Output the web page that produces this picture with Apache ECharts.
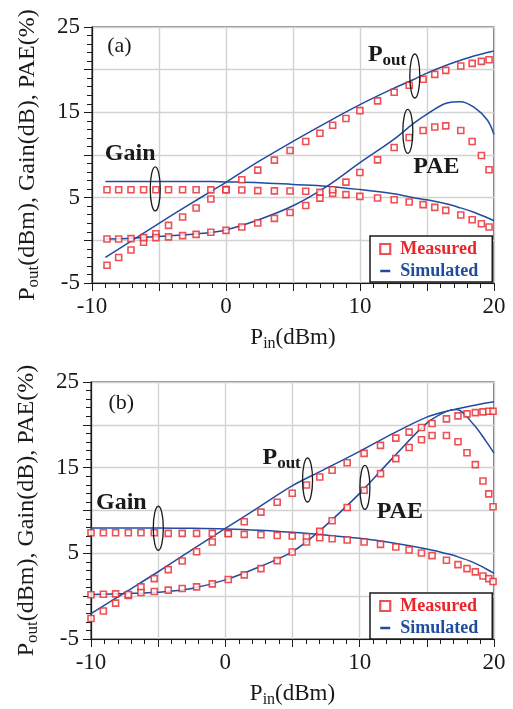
<!DOCTYPE html>
<html>
<head>
<meta charset="utf-8">
<script src="https://cdn.jsdelivr.net/npm/echarts/dist/echarts.min.js"></script>
<style>
  html, body { margin: 0; padding: 0; background: #fff; }
  #main { width: 513px; height: 709px; }
</style>
</head>
<body>
<div id="main"></div>
<script>
// ---- panel (a) measured ----
const pinA = [-8.88, -8.01, -7.09, -6.15, -5.23, -4.29, -3.24, -2.23, -1.13, 0.0, 1.18, 2.37, 3.61, 4.78, 5.95,
  7.01, 7.96, 8.95, 9.99, 11.31, 12.55, 13.67, 14.71, 15.58, 16.40, 17.52, 18.37, 19.06, 19.63];
const poutA = [-2.92, -2.02, -1.13, -0.23, 0.78, 1.75, 2.73, 3.79, 4.84, 5.95, 7.10, 8.23, 9.40, 10.53, 11.58,
  12.55, 13.49, 14.27, 15.20, 16.34, 17.35, 18.17, 18.87, 19.45, 19.92, 20.43, 20.74, 20.97, 21.17];
const gainA = [5.93, 5.93, 5.93, 5.93, 5.93, 5.93, 5.93, 5.93, 5.91, 5.91, 5.89, 5.83, 5.80, 5.78, 5.75,
  5.62, 5.50, 5.36, 5.15, 4.96, 4.76, 4.49, 4.18, 3.86, 3.51, 2.96, 2.42, 1.95, 1.56];
const paeA = [0.16, 0.16, 0.20, 0.32, 0.32, 0.40, 0.55, 0.70, 0.94, 1.17, 1.56, 2.03, 2.57, 3.27, 4.09,
  4.95, 5.93, 6.82, 7.95, 9.43, 10.88, 12.05, 12.87, 13.29, 13.41, 12.87, 11.58, 9.94, 8.27];

// ---- panel (a) simulated ----
const simXA = [-9, -7, -5, -3, -1, 0, 2.5, 5, 7.5, 10, 12.5, 14, 15, 16.5, 17.5, 18.5, 19.5, 20];
const simPoutA = [-2.0, 0.0, 2.0, 3.95, 5.85, 6.8, 9.3, 11.6, 13.8, 15.9, 17.8, 18.85, 19.6, 20.55, 21.1, 21.6, 22.0, 22.2];
const simGainA = [6.9, 6.9, 6.9, 6.9, 6.88, 6.85, 6.75, 6.55, 6.35, 5.95, 5.45, 5.0, 4.75, 4.25, 3.8, 3.3, 2.65, 2.3];
const simPaeA = [0.16, 0.25, 0.45, 0.65, 0.95, 1.2, 2.45, 4.05, 6.3, 9.1, 11.8, 13.7, 14.8, 16.1, 16.25, 15.6, 14.1, 12.4];

// ---- panel (b) measured ----
const pinB = [-10.0, -9.08, -8.17, -7.22, -6.28, -5.29, -4.25, -3.21, -2.14, -0.97, 0.22, 1.41, 2.65, 3.86, 4.98, 6.04,
  7.03, 7.95, 9.07, 10.33, 11.55, 12.69, 13.68, 14.60, 15.39, 16.46, 17.32, 17.99, 18.61, 19.18, 19.61, 19.93];
const poutB = [-2.60, -1.74, -0.81, 0.08, 1.09, 2.05, 3.10, 4.11, 5.19, 6.32, 7.36, 8.68, 9.81, 10.97, 12.02, 12.98,
  13.91, 14.69, 15.58, 16.67, 17.60, 18.45, 19.15, 19.69, 20.16, 20.70, 21.05, 21.28, 21.43, 21.51, 21.59, 21.59];
const gainB = [7.40, 7.40, 7.40, 7.40, 7.40, 7.40, 7.33, 7.33, 7.33, 7.33, 7.29, 7.21, 7.17, 7.09, 7.02, 6.94,
  6.82, 6.71, 6.55, 6.32, 6.05, 5.74, 5.39, 5.04, 4.73, 4.19, 3.68, 3.22, 2.83, 2.36, 2.05, 1.71];
const paeB = [0.16, 0.23, 0.27, 0.19, 0.43, 0.54, 0.70, 0.89, 1.09, 1.43, 1.94, 2.48, 3.22, 4.15, 5.16, 6.32,
  7.56, 8.80, 10.35, 12.36, 14.30, 16.05, 17.36, 18.26, 18.76, 18.76, 18.02, 16.74, 15.35, 13.45, 11.94, 10.43];

// ---- panel (b) simulated ----
const simXB = [-10, -7.5, -5, -2.5, 0, 2.5, 5, 7, 10, 12.5, 15, 16.5, 17.2, 18.45, 19.4, 20];
const simPoutB = [-2.05, 0.4, 2.85, 5.4, 7.9, 10.4, 12.9, 14.5, 16.9, 19.0, 20.9, 21.6, 21.85, 22.25, 22.55, 22.7];
const simGainB = [7.95, 7.95, 7.95, 7.92, 7.85, 7.7, 7.45, 7.2, 6.75, 6.2, 5.5, 4.95, 4.65, 3.95, 3.2, 2.67];
const simPaeB = [0.2, 0.3, 0.46, 0.9, 1.9, 3.4, 5.2, 7.6, 12.0, 16.2, 20.2, 21.6, 21.8, 20.1, 18.1, 16.7];

// axis tick labels shown
const xLabels = [-10, 0, 10, 20];
const yLabels = [-5, 5, 15, 25];

const FONT = '"Liberation Serif", "Times New Roman", serif';
const RED = '#e8262b';
const BLUE = '#1f4c9e';
const INK = '#1a1a1a';

const chart = echarts.init(document.getElementById('main'), null, { renderer: 'canvas' });

function zip(xs, ys) {
  return xs.map((x, i) => [x, ys[i]]);
}

function xAxisFor(grid) {
  return {
    type: 'value', gridIndex: grid, min: -10, max: 20, interval: 5,
    axisLine: { onZero: false, lineStyle: { color: INK, width: 1.2 } },
    axisTick: { length: 8, lineStyle: { color: INK, width: 1 } },
    minorTick: { show: true, splitNumber: 5, length: 5, lineStyle: { color: INK, width: 1 } },
    splitLine: { lineStyle: { color: '#d2d2d2', width: 1.4 } },
    axisLabel: {
      formatter: v => (xLabels.indexOf(v) >= 0 ? String(v) : ''),
      fontFamily: FONT, fontSize: 23, color: INK, margin: 12
    },
    name: '{m|P}{s|in}{m|(dBm)}',
    nameLocation: 'middle', nameGap: 41,
    nameTextStyle: {
      fontFamily: FONT, fontSize: 23, color: INK,
      rich: {
        m: { fontFamily: FONT, fontSize: 23, color: INK },
        s: { fontFamily: FONT, fontSize: 16, color: INK, padding: [12, 0, 0, 0] }
      }
    }
  };
}

function yAxisFor(grid) {
  return {
    type: 'value', gridIndex: grid, min: -5, max: 25, interval: 5,
    axisLine: { onZero: false, lineStyle: { color: INK, width: 1.2 } },
    axisTick: { length: 8, lineStyle: { color: INK, width: 1 } },
    minorTick: { show: true, splitNumber: 5, length: 5, lineStyle: { color: INK, width: 1 } },
    splitLine: { lineStyle: { color: '#d2d2d2', width: 1.4 } },
    axisLabel: {
      formatter: v => (yLabels.indexOf(v) >= 0 ? String(v) : ''),
      fontFamily: FONT, fontSize: 23, color: INK, margin: 12
    },
    name: '{m|P}{s|out}{m|(dBm), Gain(dB), PAE(%)}',
    nameLocation: 'middle', nameGap: 50, nameRotate: 90,
    nameTextStyle: {
      fontFamily: FONT, fontSize: 24, color: INK,
      rich: {
        m: { fontFamily: FONT, fontSize: 24, color: INK },
        s: { fontFamily: FONT, fontSize: 17, color: INK, padding: [12, 0, 0, 0] }
      }
    }
  };
}

function measured(grid, xs, ys) {
  return {
    name: 'Measured', type: 'scatter', xAxisIndex: grid, yAxisIndex: grid,
    data: zip(xs, ys), symbol: 'rect', symbolSize: 6, z: 4,
    itemStyle: { color: '#fff', borderColor: RED, borderWidth: 1.6 }
  };
}

function simulated(grid, xs, ys) {
  return {
    name: 'Simulated', type: 'line', xAxisIndex: grid, yAxisIndex: grid,
    data: zip(xs, ys), smooth: 0.35, symbol: 'none', z: 3,
    lineStyle: { color: BLUE, width: 1.5 }, itemStyle: { color: BLUE }
  };
}

function legendFor(top) {
  return {
    orient: 'vertical', left: 370, top: top,
    backgroundColor: '#fff', borderColor: INK, borderWidth: 1.5,
    padding: [4, 14, 2, 9], itemGap: 4, itemWidth: 10, itemHeight: 10,
    textStyle: { fontFamily: FONT, fontSize: 18, fontWeight: 'bold', padding: [0, 0, 0, 5] },
    data: [
      {
        name: 'Measured', textStyle: { color: RED },
        itemStyle: { color: '#fff', borderColor: RED, borderWidth: 2.2 }
      },
      {
        name: 'Simulated', textStyle: { color: BLUE },
        itemStyle: { opacity: 0 },
        lineStyle: { color: BLUE, width: 2.5 }
      }
    ],
    selectedMode: false
  };
}

chart.setOption({
  animation: false,
  backgroundColor: '#fff',
  grid: [
    { left: 92, top: 27, width: 402, height: 256, show: true, borderColor: INK, borderWidth: 1.2, backgroundColor: 'transparent' },
    { left: 91, top: 382, width: 403, height: 258, show: true, borderColor: INK, borderWidth: 1.2, backgroundColor: 'transparent' }
  ],
  xAxis: [xAxisFor(0), xAxisFor(1)],
  yAxis: [yAxisFor(0), yAxisFor(1)],
  legend: [legendFor(236), legendFor(593)],
  series: [
    simulated(0, simXA, simPoutA),
    simulated(0, simXA, simGainA),
    simulated(0, simXA, simPaeA),
    measured(0, pinA, poutA),
    measured(0, pinA, gainA),
    measured(0, pinA, paeA),
    simulated(1, simXB, simPoutB),
    simulated(1, simXB, simGainB),
    simulated(1, simXB, simPaeB),
    measured(1, pinB, poutB),
    measured(1, pinB, gainB),
    measured(1, pinB, paeB)
  ]
});

// annotations, placed in data coordinates of each panel
const boldRich = {
  p: { fontFamily: FONT, fontSize: 24, fontWeight: 'bold', color: INK },
  s: { fontFamily: FONT, fontSize: 17, fontWeight: 'bold', color: INK, padding: [12, 0, 0, 0] }
};
const notes = [
  { grid: 0, at: [-7.95, 22.69], text: '(a)', bold: false },
  { grid: 0, at: [-7.15, 10.12], text: 'Gain', bold: true },
  { grid: 0, at: [12.02, 21.78], text: '{p|P}{s|out}', rich: true },
  { grid: 0, at: [15.7, 8.56], text: 'PAE', bold: true },
  { grid: 1, at: [-7.74, 22.48], text: '(b)', bold: false },
  { grid: 1, at: [-7.74, 10.94], text: 'Gain', bold: true },
  { grid: 1, at: [4.19, 16.16], text: '{p|P}{s|out}', rich: true },
  { grid: 1, at: [12.99, 9.87], text: 'PAE', bold: true }
];
const loops = [
  { grid: 0, at: [-5.28, 6.02] },
  { grid: 0, at: [14.09, 19.26] },
  { grid: 0, at: [13.57, 12.77] },
  { grid: 1, at: [-4.99, 7.93] },
  { grid: 1, at: [6.12, 13.56] },
  { grid: 1, at: [10.39, 12.69] }
];

const graphic = [];
notes.forEach(n => {
  const p = chart.convertToPixel({ gridIndex: n.grid }, n.at);
  const style = {
    x: p[0], y: p[1], text: n.text, align: 'center', verticalAlign: 'middle',
    fontFamily: FONT, fill: INK,
    fontSize: n.bold ? 24 : 22, fontWeight: n.bold ? 'bold' : 'normal'
  };
  if (n.rich) style.rich = boldRich;
  graphic.push({ type: 'text', z: 10, style: style });
});
loops.forEach(l => {
  const p = chart.convertToPixel({ gridIndex: l.grid }, l.at);
  graphic.push({
    type: 'ellipse', z: 10,
    shape: { cx: p[0], cy: p[1], rx: 5, ry: 22 },
    style: { fill: 'none', stroke: INK, lineWidth: 1.3 }
  });
});
chart.setOption({ graphic: graphic });
</script>
</body>
</html>
